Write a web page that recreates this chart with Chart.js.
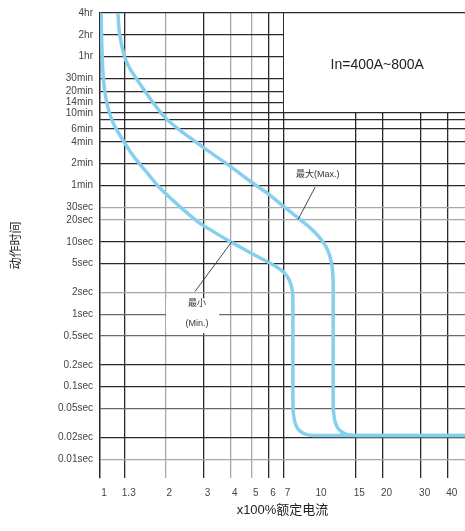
<!DOCTYPE html>
<html><head><meta charset="utf-8">
<script src="https://cdn.jsdelivr.net/npm/chart.js@4/dist/chart.umd.min.js"></script>
<style>html,body{margin:0;padding:0;background:#fff;} #wrap{width:465px;height:531px;position:relative;}</style>
</head><body><div id="wrap"><canvas id="c"></canvas></div>
<script>
// x: multiples of rated current (x100%), y: trip time in seconds
const xTickValues = [1, 1.3, 2, 3, 4, 5, 6, 7, 10, 15, 20, 30, 40];
const xTickLabels = ['1', '1.3', '2', '3', '4', '5', '6', '7', '10', '15', '20', '30', '40'];
const yTickValues = [14400, 7200, 3600, 1800, 1200, 840, 600, 480, 360, 240, 120, 60, 30, 20, 10, 5, 2, 1, 0.5, 0.2, 0.1, 0.05, 0.02, 0.01];
const yTickLabels = ['4hr', '2hr', '1hr', '30min', '20min', '14min', '10min', '', '6min', '4min', '2min', '1min', '30sec', '20sec', '10sec', '5sec', '2sec', '1sec', '0.5sec', '0.2sec', '0.1sec', '0.05sec', '0.02sec', '0.01sec'];

const minCurrent = [1.011, 1.019, 1.032, 1.054, 1.088, 1.136, 1.198, 1.276, 1.374, 1.512, 1.681, 1.869, 2.286, 2.827, 3.385, 4.053, 4.905, 5.751, 6.461, 7.034, 7.418, 7.656, 7.737, 7.737, 7.836, 8.029, 8.377, 8.879, 9.565, 48];
const minTime    = [14400, 5579, 2162, 1150, 716, 475, 346, 252.5, 178.4, 122.1, 83.6, 57.2, 32.4, 18.9, 13.4, 9.76, 7.12, 5.53, 4.57, 3.78, 3.03, 2.28, 1.66, 0.0549, 0.0364, 0.0283, 0.0242, 0.022, 0.0213, 0.0213];

const maxCurrent = [1.21, 1.229, 1.297, 1.374, 1.48, 1.754, 2.013, 2.335, 2.737, 3.209, 3.968, 4.905, 5.874, 6.96, 8.157, 9.266, 10.19, 10.98, 11.46, 11.76, 11.86, 11.86, 12.01, 12.34, 12.87, 13.72, 14.93, 48];
const maxTime    = [14400, 7652, 3584, 2454, 1734, 838, 505.7, 346.2, 244.5, 172.8, 111, 69.1, 47.3, 31.4, 21.5, 15.7, 11.79, 8.6, 6.27, 4.29, 2.43, 0.0549, 0.0364, 0.0283, 0.0242, 0.022, 0.0213, 0.0213];

const ratingText = 'In=400A~800A';
const yTitle = '动作时间';
const xTitle = 'x100%额定电流';

const toPts = (xs, ys) => xs.map((v, i) => ({x: v, y: ys[i]}));

const DARK = '#2a2a2a', MID = '#6a6a6a', LIGHT = '#a8a8a8';
const yLight = new Set([30, 20, 2, 0.01]);
const yMid = new Set([1, 0.5, 0.05]);
const xLight = new Set([2, 4, 5]);

const overlay = {
  id: 'overlay',
  beforeDatasetsDraw(chart) {
    const {ctx, chartArea: a, scales: {x, y}} = chart;
    ctx.save();
    ctx.fillStyle = '#fff';
    const bx = Math.round(x.getPixelForValue(7));
    const by = Math.round(y.getPixelForValue(600));
    const ty = y.getPixelForValue(14400);
    ctx.fillRect(bx + 1, 0, a.right - bx, by - 1);
    // restore the top border across the box
    ctx.strokeStyle = DARK;
    ctx.lineWidth = 1.3;
    ctx.beginPath();
    ctx.moveTo(bx, Math.round(ty - 0.65) + 0.65);
    ctx.lineTo(a.right, Math.round(ty - 0.65) + 0.65);
    ctx.stroke();
    // white background behind the Min label
    const mx = x.getPixelForValue(2.8), my = y.getPixelForValue(1.0);
    ctx.fillRect(mx - 31, my - 16, 53, 35);
    ctx.restore();
  },
  afterDatasetsDraw(chart) {
    const {ctx, chartArea: a, scales: {x, y}} = chart;
    ctx.save();
    const bx = x.getPixelForValue(7), by = y.getPixelForValue(600);
    ctx.fillStyle = '#222';
    ctx.font = '14px "Liberation Sans", Arial, sans-serif';
    ctx.textAlign = 'center';
    ctx.textBaseline = 'middle';
    ctx.fillText(ratingText, (bx + a.right) / 2 + 3, (a.top + by) / 2 + 2);

    ctx.strokeStyle = '#333';
    ctx.lineWidth = 0.9;
    ctx.beginPath();
    ctx.moveTo(x.getPixelForValue(8.16), y.getPixelForValue(20.2));
    ctx.lineTo(x.getPixelForValue(9.8), y.getPixelForValue(57));
    ctx.moveTo(x.getPixelForValue(4.05), y.getPixelForValue(10.1));
    ctx.lineTo(x.getPixelForValue(2.74), y.getPixelForValue(2.07));
    ctx.stroke();

    ctx.fillStyle = '#333';
    ctx.font = '9px "Liberation Sans", "Noto Sans CJK SC", sans-serif';
    ctx.textAlign = 'left';
    ctx.fillText('最大(Max.)', x.getPixelForValue(8.0), y.getPixelForValue(86));
    ctx.textAlign = 'center';
    ctx.fillText('最小', x.getPixelForValue(2.8), y.getPixelForValue(1.42));
    ctx.fillText('(Min.)', x.getPixelForValue(2.8), y.getPixelForValue(0.755));
    ctx.restore();
  }
};

new Chart(document.getElementById('c'), {
  type: 'line',
  data: {
    datasets: [
      {label: 'Max', data: toPts(maxCurrent, maxTime), borderColor: '#86d0ef', borderWidth: 3.5, pointRadius: 0, tension: 0.3, fill: false},
      {label: 'Min', data: toPts(minCurrent, minTime), borderColor: '#86d0ef', borderWidth: 3.5, pointRadius: 0, tension: 0.3, fill: false}
    ]
  },
  options: {
    responsive: true,
    maintainAspectRatio: false,
    animation: false,
    devicePixelRatio: 1,
    layout: {padding: {top: 10, right: 0, bottom: 0, left: 0}},
    plugins: {legend: {display: false}, tooltip: {enabled: false}},
    scales: {
      x: {
        type: 'logarithmic',
        min: 1, max: 48,
        afterBuildTicks: s => { s.ticks = xTickValues.map(v => ({value: v})); },
        afterFit: s => { s.height = 53; },
        border: {display: false},
        grid: {
          drawTicks: false,
          lineWidth: 1.3,
          color: c => {
            const v = c.tick ? c.tick.value : null;
            if (v === 10) return 'rgba(0,0,0,0)';
            if (xLight.has(v)) return LIGHT;
            return DARK;
          }
        },
        ticks: {
          padding: 9,
          labelOffset: 4,
          autoSkip: false,
          maxRotation: 0,
          color: '#444',
          font: {family: '"Liberation Sans", Arial, sans-serif', size: 10},
          callback: (v) => { const i = xTickValues.indexOf(v); return i >= 0 ? xTickLabels[i] : ''; }
        },
        title: {display: true, text: xTitle, color: '#222', padding: {top: 0, bottom: 13},
          font: {family: '"Liberation Sans", "Noto Sans CJK SC", sans-serif', size: 13}}
      },
      y: {
        type: 'logarithmic',
        min: 0.0055, max: 14400,
        afterBuildTicks: s => { s.ticks = yTickValues.map(v => ({value: v})); },
        afterFit: s => { s.width = 100; },
        border: {display: true, color: DARK, width: 1.3},
        grid: {
          drawTicks: false,
          lineWidth: 1.3,
          color: c => {
            const v = c.tick ? c.tick.value : null;
            if (yLight.has(v)) return LIGHT;
            if (yMid.has(v)) return MID;
            return DARK;
          }
        },
        ticks: {
          padding: 7,
          autoSkip: false,
          color: '#444',
          font: {family: '"Liberation Sans", Arial, sans-serif', size: 10},
          callback: (v) => { const i = yTickValues.indexOf(v); return i >= 0 ? yTickLabels[i] : ''; }
        },
        title: {display: true, text: yTitle, color: '#222', padding: {top: 8, bottom: 0},
          font: {family: '"Noto Sans CJK SC", sans-serif', size: 12}}
      }
    }
  },
  plugins: [overlay]
});
</script>
</body></html>
